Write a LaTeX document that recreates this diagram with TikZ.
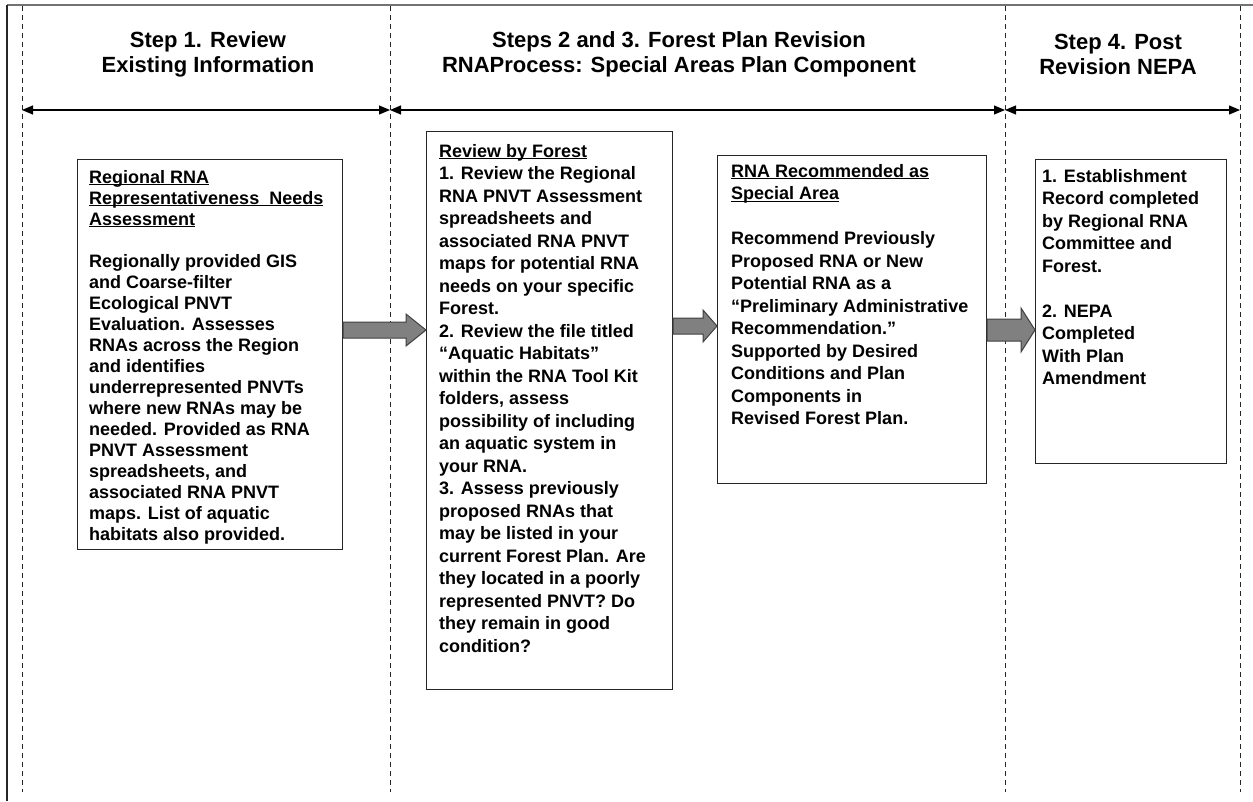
\documentclass[tikz,border=0pt]{standalone}
\usepackage{fontspec}
\setmainfont{Liberation Sans}
\usetikzlibrary{calc,arrows.meta}
\newcommand\ulline[1]{\underline{\smash{#1}\vphantom{Rl}}}
\begin{document}
\begin{tikzpicture}[x=1pt,y=-1pt,
  boxnode/.style={draw=black!85, line width=1.2pt, rectangle, inner sep=0pt, anchor=north west},
  bodytext/.style={anchor=north west, inner sep=0pt, align=left, font=\bfseries\fontsize{18}{22.5}\selectfont},
  bodytight/.style={anchor=north west, inner sep=0pt, align=left, font=\bfseries\fontsize{18}{21}\selectfont},
  headtext/.style={inner sep=0pt, align=center, font=\bfseries\fontsize{22}{25}\selectfont},
  lanesep/.style={line width=0.9pt, dash pattern=on 5pt off 4pt, black!85},
  spanarrow/.style={line width=1.1pt, {Triangle[length=11pt,width=9pt]}-{Triangle[length=11pt,width=9pt]}},
  blockarrow/.style={draw=black!75, line width=1pt, fill=black!50}
]
\useasboundingbox (0,0) rectangle (1253,801);
% frame
\draw[black!55, line width=1.6pt] (7,5) -- (1253,5);
\draw[black!85, line width=1.2pt] (7,5) -- (7,801);
% lane separators
\coordinate (d1t) at (22,6);   \coordinate (d1b) at (22,792);
\coordinate (d2t) at (390,6);  \coordinate (d2b) at (390,792);
\coordinate (d3t) at (1005,6); \coordinate (d3b) at (1005,792);
\coordinate (d4t) at (1240,6); \coordinate (d4b) at (1240,792);
\draw[lanesep] (d1t) -- (d1b);
\draw[lanesep] (d2t) -- (d2b);
\draw[lanesep] (d3t) -- (d3b);
\draw[lanesep] (d4t) -- (d4b);
% span arrows
\coordinate (s1) at (22,110);
\coordinate (s2) at (390,110);
\coordinate (s3) at (1005,110);
\coordinate (s4) at (1240,110);
\draw[spanarrow] (s1) -- (s2);
\draw[spanarrow] (s2) -- (s3);
\draw[spanarrow] (s3) -- (s4);
% headers
\node[headtext] (h1) at (208,54) {Step 1. Review\\Existing Information};
\node[headtext] (h2) at (679,54) {Steps 2 and 3. Forest Plan Revision\\RNA\hspace{-0.28em} Process: Special Areas Plan Component};
\node[headtext] (h3) at (1118,54) {Step 4. Post\\Revision NEPA};
% boxes
\node[boxnode, minimum width=265pt, minimum height=390pt] (b1) at (77,159) {};
\node[boxnode, minimum width=246pt, minimum height=558pt] (b2) at (426,131) {};
\node[boxnode, minimum width=269pt, minimum height=328pt] (b3) at (717,155) {};
\node[boxnode, minimum width=191pt, minimum height=304pt] (b4) at (1035,159) {};
% texts
\node[bodytight] (t1) at (89,170) {\ulline{Regional RNA}\\
\ulline{Representativeness\ \ Needs}\\
\ulline{Assessment}\\[21pt]
Regionally provided GIS\\
and Coarse-filter\\
Ecological PNVT\\
Evaluation. Assesses\\
RNAs across the Region\\
and identifies\\
underrepresented PNVTs\\
where new RNAs may be\\
needed. Provided as RNA\\
PNVT Assessment\\
spreadsheets, and\\
associated RNA PNVT\\
maps. List of aquatic\\
habitats also provided.};
\node[bodytext] (t2) at (439,144) {\ulline{Review by Forest}\\
1. Review the Regional\\
RNA PNVT Assessment\\
spreadsheets and\\
associated RNA PNVT\\
maps for potential RNA\\
needs on your specific\\
Forest.\\
2. Review the file titled\\
“Aquatic Habitats”\\
within the RNA Tool Kit\\
folders, assess\\
possibility of including\\
an aquatic system in\\
your RNA.\\
3. Assess previously\\
proposed RNAs that\\
may be listed in your\\
current Forest Plan. Are\\
they located in a poorly\\
represented PNVT? Do\\
they remain in good\\
condition?};
\node[bodytext] (t3) at (731,164) {\ulline{RNA Recommended as}\\
\ulline{Special Area}\\[22.5pt]
Recommend Previously\\
Proposed RNA or New\\
Potential RNA as a\\
“Preliminary Administrative\\
Recommendation.”\\
Supported by Desired\\
Conditions and Plan\\
Components in\\
Revised Forest Plan.};
\node[bodytext] (t4) at (1042,169) {1. Establishment\\
Record completed\\
by Regional RNA\\
Committee and\\
Forest.\\[22.5pt]
2. NEPA\\
Completed\\
With Plan\\
Amendment};
% block arrows
\coordinate (a1) at (0,330);
\coordinate (a2) at (0,326);
\coordinate (a3) at (0,330);
\draw[blockarrow] ($(b1.east|-a1)+(0,-8)$) -- ($(b2.west|-a1)+(-20,-8)$) -- ($(b2.west|-a1)+(-20,-16)$) -- (b2.west|-a1) -- ($(b2.west|-a1)+(-20,16)$) -- ($(b2.west|-a1)+(-20,8)$) -- ($(b1.east|-a1)+(0,8)$) -- cycle;
\draw[blockarrow] ($(b2.east|-a2)+(0,-8)$) -- ($(b3.west|-a2)+(-14,-8)$) -- ($(b3.west|-a2)+(-14,-16)$) -- (b3.west|-a2) -- ($(b3.west|-a2)+(-14,16)$) -- ($(b3.west|-a2)+(-14,8)$) -- ($(b2.east|-a2)+(0,8)$) -- cycle;
\draw[blockarrow] ($(b3.east|-a3)+(0,-11)$) -- ($(b4.west|-a3)+(-14,-11)$) -- ($(b4.west|-a3)+(-14,-22)$) -- (b4.west|-a3) -- ($(b4.west|-a3)+(-14,22)$) -- ($(b4.west|-a3)+(-14,11)$) -- ($(b3.east|-a3)+(0,11)$) -- cycle;
\end{tikzpicture}
\end{document}
